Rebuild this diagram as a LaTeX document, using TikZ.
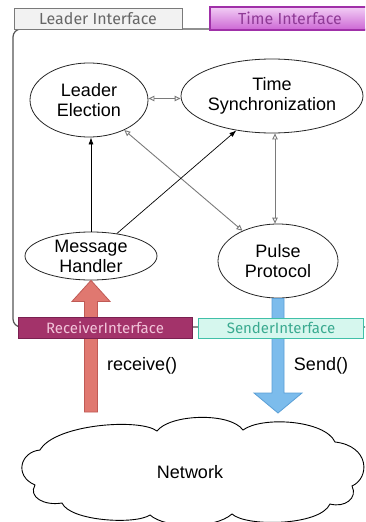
\documentclass[tikz,border=0pt]{standalone}
\usepackage{fontspec}
\setmainfont{Liberation Sans}
\newfontfamily\tabfont{Fira Sans}
\usetikzlibrary{shapes.geometric,arrows.meta,calc}

\definecolor{boxline}{HTML}{555555}
\definecolor{greyarrow}{HTML}{7A7A7A}
\definecolor{leadtabfill}{HTML}{F2F2F2}
\definecolor{leadtabline}{HTML}{7A7A7A}
\definecolor{timetabtop}{HTML}{F2CDF5}
\definecolor{timetabbot}{HTML}{CC66D4}
\definecolor{timetabline}{HTML}{A030A8}
\definecolor{timetabtext}{HTML}{8F3A96}
\definecolor{rcvfill}{HTML}{A3336A}
\definecolor{rcvline}{HTML}{7A2050}
\definecolor{rcvtext}{HTML}{F2C4DA}
\definecolor{sndfill}{HTML}{D6F7EE}
\definecolor{sndline}{HTML}{40C0A8}
\definecolor{sndtext}{HTML}{3AAA90}
\definecolor{redfill}{HTML}{E07870}
\definecolor{redline}{HTML}{C05A55}
\definecolor{bluefill}{HTML}{7CBCEC}
\definecolor{blueline}{HTML}{5A9FD6}

\tikzset{
  module/.style={ellipse, draw=black!85, line width=0.8pt, fill=white, inner sep=0pt,
    align=center, font=\fontsize{18}{20}\selectfont},
  peerlink/.style={draw=greyarrow, line width=0.9pt,
    {Triangle[open,length=6pt,width=5.5pt]}-{Triangle[open,length=6pt,width=5.5pt]}},
  calllink/.style={draw=black, line width=0.7pt, -{Latex[length=7pt,width=5pt]}},
  tablabel/.style={font=\tabfont\fontsize{16}{18}\selectfont},
  barlabel/.style={font=\tabfont\fontsize{15}{17}\selectfont},
  plainlabel/.style={font=\fontsize{18}{20}\selectfont, inner sep=0pt},
}

\begin{document}
\begin{tikzpicture}[x=1pt,y=-1pt]
\useasboundingbox (0,0) rectangle (365,522);
\clip (0,0) rectangle (365,522);
\fill[white] (0,0) rectangle (365,522);

% component frame
\draw[boxline, line width=1.2pt, rounded corners=8pt] (13,29) rectangle (395,327);

% interface tabs on top of the frame
\draw[draw=leadtabline, fill=leadtabfill, line width=0.9pt] (14,8) rectangle (182,29);
\node[tablabel, text=black!60] (leadtab) at (98,18.5) {Leader Interface};
\draw[draw=timetabline, top color=timetabtop, bottom color=timetabbot, line width=1.2pt]
  (210,7) rectangle (372,30);
\node[tablabel, text=timetabtext] (timetab) at (290,18.5) {Time Interface};

% modules
\node[module, minimum width=118pt, minimum height=74pt] (le) at (89,100) {Leader\\Election};
\node[module, minimum width=182pt, minimum height=74pt] (ts) at (272,96) {Time\\Synchronization};
\node[module, minimum width=132pt, minimum height=48pt] (mh) at (91,256) {Message\\Handler};
\node[module, minimum width=120pt, minimum height=74pt] (pp) at (278,261) {Pulse\\Protocol};

% links between modules
\draw[peerlink] ([yshift=1.5pt]le.east) -- ([yshift=1.5pt]le.east -| ts.west);
\draw[peerlink] (le) -- (pp);
\draw[peerlink] ([xshift=3pt]ts.south) -- ([xshift=-3pt]pp.north);
\draw[calllink] (mh.north) -- (mh.north |- le.south);
\draw[calllink] (mh.41) -- (ts.224);

% receive path: network up to the message handler
\coordinate (rtip) at (mh.south);
\coordinate (rtail) at (rtip |- 0,412);
\draw[fill=redfill, draw=redline, line width=0.8pt, line join=miter]
  ($(rtail)+(-6.5,0)$) -- ($(rtip)+(-6.5,21)$) -- ($(rtip)+(-19,21)$) -- (rtip)
  -- ($(rtip)+(19,21)$) -- ($(rtip)+(6.5,21)$) -- ($(rtail)+(6.5,0)$) -- cycle;

% send path: pulse protocol down to the network
\coordinate (stail) at (pp.south);
\coordinate (stip) at (stail |- 0,413);
\draw[fill=bluefill, draw=blueline, line width=0.8pt, line join=miter]
  ($(stail)+(-6,0)$) -- ($(stip)+(-6,-20)$) -- ($(stip)+(-24,-20)$) -- (stip)
  -- ($(stip)+(24,-20)$) -- ($(stip)+(6,-20)$) -- ($(stail)+(6,0)$) -- cycle;

% interface bars along the bottom of the frame
\draw[draw=rcvline, fill=rcvfill, line width=0.8pt] (18,317) rectangle (192,338);
\node[barlabel, text=rcvtext] (rcvbar) at (105,327.5) {ReceiverInterface};
\draw[draw=sndline, fill=sndfill, line width=0.9pt] (198,318) rectangle (363,338);
\node[barlabel, text=sndtext] (sndbar) at (281,328) {SenderInterface};

% call labels
\node[plainlabel, anchor=west] (rcvcall) at (107,366) {receive()};
\node[plainlabel] (sndcall) at (321,366) {Send()};

% network cloud
\draw[fill=white, draw=black, line width=0.9pt]
  (40,450) .. controls (55,424) and (140,418) .. (157,431)
  .. controls (170,414) and (230,412) .. (243,430)
  .. controls (262,416) and (325,420) .. (335,442)
  .. controls (370,446) and (370,478) .. (352,486)
  .. controls (358,498) and (345,508) .. (330,504)
  .. controls (320,526) and (246,527) .. (232,514)
  .. controls (215,529) and (166,529) .. (150,515)
  .. controls (135,525) and (70,521) .. (62,503)
  .. controls (44,506) and (28,497) .. (35,485)
  .. controls (14,476) and (20,452) .. (40,450) -- cycle;
\node[plainlabel] (net) at (190,472) {Network};
\end{tikzpicture}
\end{document}
